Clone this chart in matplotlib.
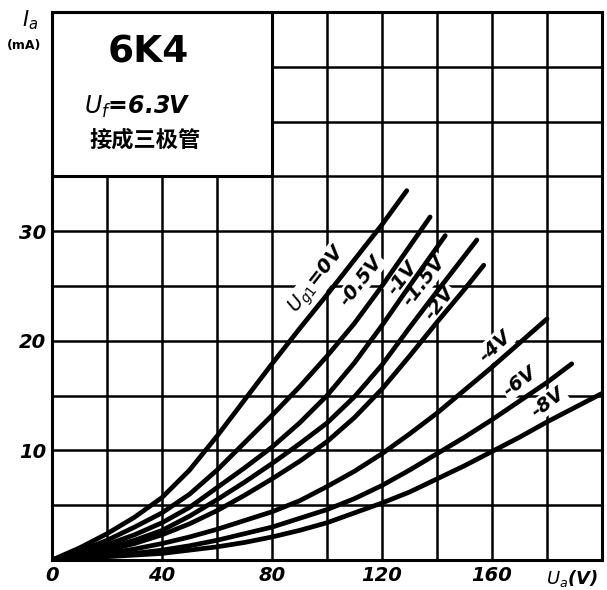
import matplotlib.pyplot as plt
from matplotlib.patches import Rectangle

# 6K4 triode-connected plate characteristics
g0_v = [0, 10, 20, 30, 40, 50, 60, 70, 80, 90, 100, 110, 120, 129]
g0_i = [0, 1.1, 2.4, 3.9, 5.7, 8.2, 11.3, 14.6, 17.9, 21.1, 24.2, 27.4, 30.6, 33.7]

g05_v = [0, 10, 20, 30, 40, 50, 60, 70, 80, 90, 100, 110, 120, 130, 137.5]
g05_i = [0, 0.8, 1.8, 3.0, 4.3, 6.0, 8.2, 10.7, 13.2, 15.8, 18.6, 21.6, 25.0, 28.6, 31.3]

g1_v = [0, 10, 20, 30, 40, 50, 60, 70, 80, 90, 100, 110, 120, 130, 143]
g1_i = [0, 0.6, 1.4, 2.3, 3.4, 4.8, 6.6, 8.4, 10.3, 12.5, 15.0, 18.0, 21.4, 25.0, 29.6]

g15_v = [0, 10, 20, 30, 40, 50, 60, 70, 80, 90, 100, 110, 120, 130, 140, 154.5]
g15_i = [0, 0.5, 1.1, 1.8, 2.7, 4.0, 5.5, 7.1, 8.8, 10.6, 12.5, 14.9, 17.8, 21.2, 24.5, 29.2]

g2_v = [0, 10, 20, 30, 40, 50, 60, 70, 80, 90, 100, 110, 120, 130, 140, 150, 157]
g2_i = [0, 0.4, 0.9, 1.5, 2.3, 3.3, 4.5, 5.9, 7.4, 9.0, 10.8, 13.0, 15.6, 18.6, 21.7, 24.7, 26.9]

g4_v = [0, 10, 20, 30, 40, 50, 60, 70, 80, 90, 100, 110, 120, 130, 140, 150, 160, 170, 180]
g4_i = [0, 0.3, 0.6, 1.0, 1.5, 2.1, 2.8, 3.6, 4.4, 5.4, 6.7, 8.1, 9.7, 11.5, 13.4, 15.5, 17.6, 19.8, 22.0]

g6_v = [0, 10, 20, 30, 40, 50, 60, 70, 80, 90, 100, 110, 120, 130, 140, 150, 160, 170, 180, 189]
g6_i = [0, 0.2, 0.4, 0.6, 0.9, 1.3, 1.8, 2.4, 3.0, 3.8, 4.6, 5.6, 6.8, 8.2, 9.7, 11.2, 12.8, 14.5, 16.2, 17.9]

g8_v = [0, 10, 20, 30, 40, 50, 60, 70, 80, 90, 100, 110, 120, 130, 140, 150, 160, 170, 180, 190, 200]
g8_i = [0, 0.1, 0.3, 0.45, 0.6, 0.9, 1.2, 1.6, 2.1, 2.7, 3.4, 4.3, 5.2, 6.2, 7.4, 8.6, 9.9, 11.2, 12.6, 13.9, 15.2]

x_ticks = [0, 40, 80, 120, 160]
y_ticks = [10, 20, 30]

curves = [(g0_v, g0_i), (g05_v, g05_i), (g1_v, g1_i), (g15_v, g15_i),
          (g2_v, g2_i), (g4_v, g4_i), (g6_v, g6_i), (g8_v, g8_i)]

# curve labels: text, (V, mA) centre, rotation
curve_labels = [
    (r"$U_{g1}$=0V", 96.7, 25.6, 52),
    ("-0.5V", 112.4, 25.5, 52),
    ("-1V", 127.3, 25.7, 52),
    ("-1.5V", 135.3, 25.5, 52),
    ("-2V", 141.0, 23.4, 52),
    ("-4V", 161.0, 19.5, 43),
    ("-6V", 170.0, 16.3, 37),
    ("-8V", 180.4, 14.4, 37),
]

fig = plt.figure(figsize=(6.07, 5.90), dpi=100)
ax = fig.add_axes([52 / 607, 30 / 590, 550 / 607, 548 / 590])
ax.set_xlim(0, 200)
ax.set_ylim(0, 50)

# grid drawn by hand so it sits under the title box
for v in range(20, 200, 20):
    ax.axvline(v, color="black", lw=1.8, zorder=1)
for i in range(5, 50, 5):
    ax.axhline(i, color="black", lw=1.8, zorder=1)

# title box in the top-left corner (no grid inside)
ax.add_patch(Rectangle((0, 35), 80, 15, facecolor="white", edgecolor="black",
                       lw=2.2, zorder=2))
ax.text(35, 46.3, "6K4", fontsize=27, fontweight="bold", ha="center", va="center", zorder=3)
ax.text(31, 41.3, r"$U_f$=6.3V", fontsize=17, fontweight="bold", ha="center", va="center",
        style="italic", zorder=3)
ax.text(34, 38.3, "接成三极管", fontsize=16, fontweight="bold", ha="center", va="center",
        family=["Noto Sans CJK SC", "DejaVu Sans"], zorder=3)

for v, i in curves:
    ax.plot(v, i, color="black", lw=3.4, solid_capstyle="round",
            solid_joinstyle="round", zorder=5)

for txt, v, i, rot in curve_labels:
    ax.text(v, i, txt, fontsize=14, fontweight="bold", style="italic", rotation=rot,
            rotation_mode="anchor", ha="center", va="center", zorder=4,
            bbox=dict(facecolor="white", edgecolor="none", pad=1.0))

for s in ax.spines.values():
    s.set_linewidth(2.2)
    s.set_color("black")

ax.set_xticks(x_ticks)
ax.set_xticklabels([str(t) for t in x_ticks])
ax.set_yticks(y_ticks)
ax.set_yticklabels([str(t) for t in y_ticks])
ax.tick_params(length=0, labelsize=14, pad=4)
for lab in ax.get_xticklabels() + ax.get_yticklabels():
    lab.set_fontweight("bold")
    lab.set_style("italic")

ax.text(189, -1.7, r"$U_a$(V)", fontsize=13, fontweight="bold", style="italic",
        ha="center", va="center")
fig.text(30 / 607, 1 - 20 / 590, r"$I_a$", fontsize=15, ha="center", va="center")
fig.text(24 / 607, 1 - 45 / 590, "(mA)", fontsize=9, fontweight="bold", ha="center",
         va="center")

fig.savefig("out.png", dpi=100)
